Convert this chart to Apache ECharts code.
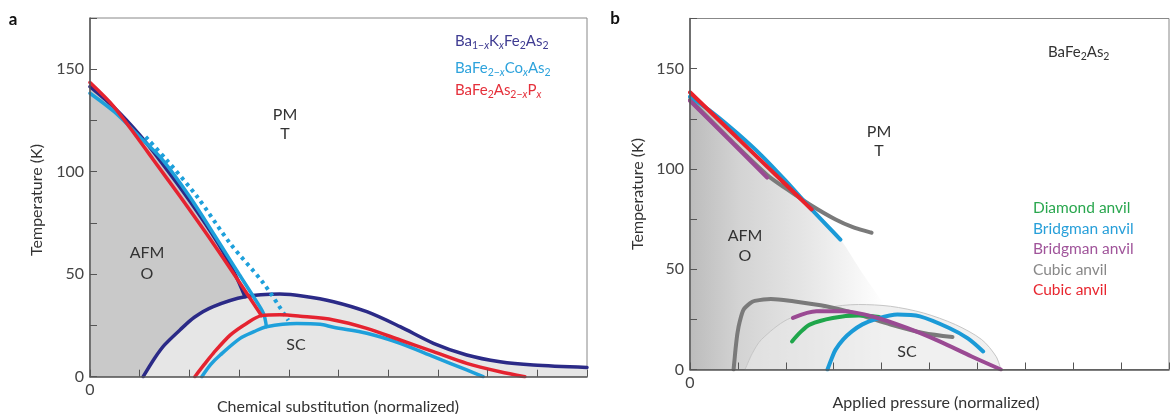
<!DOCTYPE html>
<html><head><meta charset="utf-8">
<script src="https://cdn.jsdelivr.net/npm/echarts@6/dist/echarts.min.js"></script>
<style>html,body{margin:0;padding:0;background:#fff}#c{width:1172px;height:414px}</style>
</head><body><div id="c"></div>
<script>
// ---------- tick labels ----------
const yTickLabels = [0, 50, 100, 150];
const xTickLabels = [0];

// ---------- panel a: chemical substitution ----------
const aNavyTN   = [[0,141.5],[0.5,131],[1.0,118],[1.4,105.8],[2.0,86],[2.58,65],[2.9,51],[3.12,39]];
const aNavyDome = [[1.07,0],[1.3,9],[1.5,15.5],[1.81,22.8],[2.1,29],[2.48,34.2],[3.12,39],[3.82,40.3],[4.3,39.3],[4.9,36.6],[5.57,31.7],[6.24,24.4],[6.91,16.3],[7.58,10.6],[8.25,7.3],[8.92,5.7],[10,4.5]];
const aBlueTN   = [[0,138.3],[0.5,129],[1.0,117],[1.46,105.8],[2.0,88],[2.61,65],[3.0,50],[3.29,39],[3.49,30.9],[3.55,24.4]];
const aBlueTs   = [[1.12,117],[1.54,105.8],[2.15,88],[2.82,65],[3.49,45.6],[3.95,29],[3.99,27.5]];
const aBlueDome = [[2.25,0],[2.43,6],[2.62,10.6],[3.02,18.7],[3.3,22],[3.55,24.4],[4.16,26],[4.63,25.6],[4.9,24.1],[5.57,21.2],[6.24,16.3],[6.91,9.8],[7.58,3.3],[7.91,0]];
const aRedTN    = [[0,143.5],[0.47,132],[1.0,115],[1.27,106],[1.81,88],[2.48,65],[3.02,45.6],[3.45,29.8]];
const aRedDome  = [[2.11,0],[2.3,6],[2.48,11.4],[2.82,20.3],[3.15,26],[3.45,29.8],[3.82,30.2],[4.23,29.5],[4.9,27.7],[5.57,23.6],[6.24,17.9],[6.91,12.2],[7.58,6.5],[8.25,2.4],[8.75,0]];

// ---------- panel b: applied pressure ----------
const bAfmEdge    = [[0,136.5],[1.0,115.5],[2.0,93],[2.54,80.5],[3.14,64.8],[3.6,48],[4.06,32.3]];
const bScDome     = [[1.15,0],[1.3,8],[1.49,14.9],[2.03,24.9],[2.84,30.7],[3.52,32.4],[4.19,31.5],[4.87,28.2],[5.54,22.4],[6.09,14.9],[6.39,6.5],[6.49,0]];
const bRedTN      = [[0,138.2],[1.27,109],[2.54,79.8]];
const bPurpleTN   = [[0,134],[0.8,115],[1.61,95.7]];
const bBlueTN     = [[0,136],[0.5,127.5],[1.0,117.5],[1.5,106.5],[2.0,94],[2.5,80.8],[3.14,64.8]];
const bGrayTN     = [[0,134.5],[0.8,115.5],[1.61,97],[2.03,89.8],[2.5,82.3],[3.04,74.8],[3.4,71],[3.79,68.2]];
const bGraySC     = [[0.91,0],[0.93,5],[0.95,10],[0.99,18],[1.04,24],[1.12,29.9],[1.25,33],[1.35,34.2],[1.69,35.2],[2.16,34],[2.84,31.5],[3.52,27.4],[4.19,22.4],[4.87,18.2],[5.48,16.2]];
const bGreenSC    = [[2.13,14],[2.3,18.5],[2.5,22.4],[2.98,25.7],[3.52,26.9],[3.95,26.2]];
const bPurpleSC   = [[2.15,25.7],[2.64,29],[3.18,29],[3.85,26.2],[4.53,20.7],[5.21,14],[5.88,6.5],[6.49,0]];
const bBlueSC     = [[2.87,0],[2.95,5],[3.04,9.9],[3.2,15],[3.38,19],[3.6,22.5],[3.85,24.9],[4.33,27.4],[4.8,26.5],[5.41,20.7],[5.8,15.5],[6.12,9]];

const FONT = 'Lato, "Open Sans", sans-serif';
const C = {
  navy:'#2b2a87', blueA:'#1ea0db', redA:'#e52330',
  green:'#1fa64b', blueB:'#1b9ad7', purple:'#9a4a93', gray:'#7a7a7a', redB:'#e8222b'
};
const SM = 0.3;

function xAxis(gi){
  return {type:'value', gridIndex:gi, min:0, max:10, interval:1, z:20,
    axisLine:{onZero:false, lineStyle:{color:'#555', width:1.5}},
    axisTick:{inside:true, length:7, lineStyle:{color:'#555', width:1}},
    splitLine:{show:false},
    axisLabel:{margin:5, fontFamily:FONT, fontSize:16, color:'#444',
      formatter:v => xTickLabels.includes(v) ? String(v) : ''}};
}
function yAxis(gi){
  return {type:'value', gridIndex:gi, min:0, max:175, interval:25, z:20,
    axisLine:{onZero:false, lineStyle:{color:'#555', width:1.5}},
    axisTick:{inside:true, length:7, lineStyle:{color:'#555', width:1}},
    splitLine:{show:false},
    axisLabel:{margin:6, fontFamily:FONT, fontSize:16, color:'#444',
      formatter:v => yTickLabels.includes(v) ? String(v) : ''}};
}
function line(gi, data, color, width, z, extra){
  return Object.assign({type:'line', xAxisIndex:gi, yAxisIndex:gi, data, symbol:'none',
    smooth:SM, z, silent:true,
    lineStyle:{color, width, cap:'round'}}, extra||{});
}
function area(gi, data, fill, z){
  return {type:'line', xAxisIndex:gi, yAxisIndex:gi, data, symbol:'none',
    smooth:SM, z, silent:true,
    lineStyle:{width:0, opacity:0},
    areaStyle:{color:fill, opacity:1}};
}

const afmGrad = new echarts.graphic.LinearGradient(0,0,1,0,[
  {offset:0, color:'#bcbcbc'},{offset:0.25, color:'#d3d3d3'},{offset:0.6, color:'#e6e6e6'},{offset:1, color:'#ffffff'}]);

const subRich = (col) => ({
  m:{fontFamily:FONT, fontSize:15, color:col, lineHeight:20, verticalAlign:'middle'},
  s:{fontFamily:FONT, fontSize:10.5, color:col, lineHeight:10, verticalAlign:'bottom'},
  si:{fontFamily:FONT, fontSize:10.5, color:col, fontStyle:'italic', lineHeight:10, verticalAlign:'bottom'}
});
function rtext(x, y, text, col){
  return {type:'text', x, y, z:100, style:{text, rich:subRich(col), fill:col, font:'15px '+FONT, textAlign:'left', textVerticalAlign:'middle'}};
}
function ptext(x, y, text, col, size, weight, align, rot){
  return {type:'text', x, y, z:100, rotation: rot||0,
    style:{text, fill:col||'#333', font:(weight||'normal')+' '+(size||15)+'px '+FONT,
      textAlign:align||'center', textVerticalAlign:'middle'}};
}

const option = {
  animation:false,
  backgroundColor:'#fff',
  grid:[
    {left:90, top:18, width:497, height:358.7, show:true, borderColor:'#888', borderWidth:1, backgroundColor:'transparent'},
    {left:690, top:18.5, width:493, height:351, show:true, borderColor:'#888', borderWidth:1, backgroundColor:'transparent'}
  ],
  xAxis:[xAxis(0), xAxis(1)],
  yAxis:[yAxis(0), yAxis(1)],
  series:[
    area(0, aNavyTN, '#c9c9c9', 1),
    area(0, aNavyDome, '#e6e6e6', 2),
    line(0, aNavyTN, C.navy, 3.5, 5),
    line(0, aNavyDome, C.navy, 3.5, 5),
    line(0, aBlueTs, C.blueA, 4, 6, {lineStyle:{color:C.blueA, width:4, type:[3.5,4.2], cap:'butt'}}),
    line(0, aBlueTN, C.blueA, 3.5, 6),
    line(0, aBlueDome, C.blueA, 3.5, 6),
    line(0, aRedTN, C.redA, 3.5, 7),
    line(0, aRedDome, C.redA, 3.5, 7),

    area(1, bAfmEdge, afmGrad, 1),
    {type:'line', xAxisIndex:1, yAxisIndex:1, data:bScDome, symbol:'none', smooth:SM, z:2, silent:true,
      lineStyle:{color:'#c6c6c6', width:1}, areaStyle:{color:'rgba(230,230,230,0.88)'}},
    line(1, bGrayTN, C.gray, 4, 5),
    line(1, bBlueTN, C.blueB, 4, 6),
    line(1, bPurpleTN, C.purple, 4, 7),
    line(1, bRedTN, C.redB, 4, 8),
    line(1, bGraySC, C.gray, 4, 5),
    line(1, bGreenSC, C.green, 4, 6),
    line(1, bBlueSC, C.blueB, 4, 6),
    line(1, bPurpleSC, C.purple, 4, 7)
  ],
  graphic:[
    ptext(13, 20, 'a', '#111', 17, 'bold'),
    ptext(615, 19, 'b', '#111', 17, 'bold'),
    ptext(37, 200, 'Temperature (K)', '#333', 16, 'normal', 'center', Math.PI/2),
    ptext(638, 194, 'Temperature (K)', '#333', 16, 'normal', 'center', Math.PI/2),
    ptext(338, 407, 'Chemical substitution (normalized)', '#333', 16),
    ptext(936, 403, 'Applied pressure (normalized)', '#333', 16),
    ptext(285, 115, 'PM', '#333', 16), ptext(285, 134, 'T', '#333', 16),
    ptext(147, 253, 'AFM', '#333', 16), ptext(147, 274, 'O', '#333', 16),
    ptext(296, 345, 'SC', '#333', 16),
    ptext(879, 132, 'PM', '#333', 16), ptext(879, 151, 'T', '#333', 16),
    ptext(745, 236, 'AFM', '#333', 16), ptext(745, 256, 'O', '#333', 16),
    ptext(907, 352, 'SC', '#333', 16),
    rtext(455, 41, '{m|Ba}{s|1−}{si|x}{m|K}{si|x}{m|Fe}{s|2}{m|As}{s|2}', '#3f3c92'),
    rtext(455, 68, '{m|BaFe}{s|2−}{si|x}{m|Co}{si|x}{m|As}{s|2}', '#2ea3dc'),
    rtext(455, 90, '{m|BaFe}{s|2}{m|As}{s|2−}{si|x}{m|P}{si|x}', '#e5303b'),
    rtext(1048, 52, '{m|BaFe}{s|2}{m|As}{s|2}', '#333'),
    ptext(1033, 208, 'Diamond anvil', '#2aa74f', 15.5, 'normal', 'left'),
    ptext(1033, 228.5, 'Bridgman anvil', '#279fd9', 15.5, 'normal', 'left'),
    ptext(1033, 249, 'Bridgman anvil', '#a0549a', 15.5, 'normal', 'left'),
    ptext(1033, 269.5, 'Cubic anvil', '#888', 15.5, 'normal', 'left'),
    ptext(1033, 290, 'Cubic anvil', '#e8262f', 15.5, 'normal', 'left')
  ]
};
const chart = echarts.init(document.getElementById('c'), null, {renderer:'canvas'});
chart.setOption(option);
</script></body></html>
